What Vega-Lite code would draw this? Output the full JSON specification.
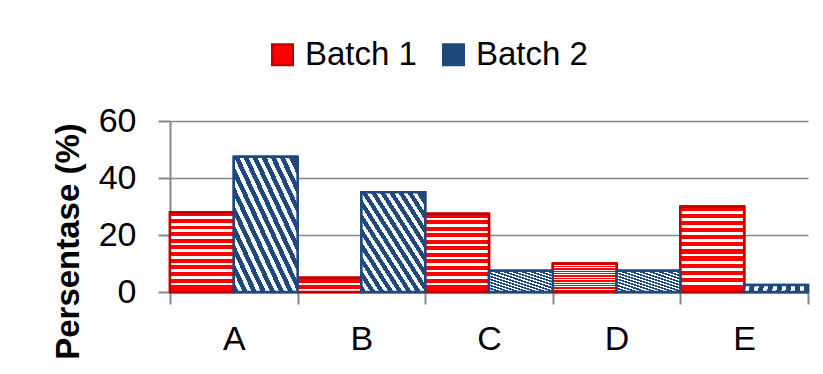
{
  "$schema": "https://vega.github.io/schema/vega-lite/v6.json",
  "width": 638,
  "height": 171,
  "autosize": {"type": "none"},
  "padding": {"left": 170, "top": 121, "right": 15, "bottom": 82},
  "background": "white",
  "config": {"view": {"stroke": null}, "font": "Liberation Sans"},
  "data": {
    "values": [
      {"cat": "A", "series": "Batch 1", "value": 28},
      {"cat": "A", "series": "Batch 2", "value": 47.5},
      {"cat": "B", "series": "Batch 1", "value": 5},
      {"cat": "B", "series": "Batch 2", "value": 35},
      {"cat": "C", "series": "Batch 1", "value": 27.5},
      {"cat": "C", "series": "Batch 2", "value": 7.5},
      {"cat": "D", "series": "Batch 1", "value": 10},
      {"cat": "D", "series": "Batch 2", "value": 7.5},
      {"cat": "E", "series": "Batch 1", "value": 30},
      {"cat": "E", "series": "Batch 2", "value": 2.5}
    ]
  },
  "encoding": {
    "x": {
      "field": "cat", "type": "nominal", "title": null,
      "scale": {"paddingInner": 0, "paddingOuter": 0},
      "axis": {"labelAngle": 0, "tickBand": "extent", "tickSize": 12, "tickColor": "#878787", "tickWidth": 2,
               "domainColor": "#878787", "domainWidth": 2, "labelFontSize": 34, "labelPadding": 18,
               "labelColor": "#000000", "grid": false}
    },
    "xOffset": {"field": "series", "type": "nominal", "scale": {"domain": ["Batch 1", "Batch 2"], "paddingInner": 0, "paddingOuter": 0}},
    "y": {
      "field": "value", "type": "quantitative",
      "scale": {"domain": [0, 60]},
      "axis": {"values": [0, 20, 40, 60], "title": "Persentase (%)", "titleFontSize": 33, "titleFontWeight": "bold",
               "titleColor": "#000000", "titleX": -85, "titleY": 120, "labelFontSize": 34, "labelColor": "#000000",
               "labelPadding": 22, "tickSize": 12, "tickColor": "#878787", "tickWidth": 2, "domainColor": "#878787",
               "domainWidth": 2, "gridColor": "#878787", "gridWidth": 1.5}
    }
  },
  "layer": [
    {
      "mark": {"type": "bar", "strokeWidth": 2.5},
      "encoding": {
        "fill": {"field": "series", "type": "nominal", "scale": {"domain": ["Batch 1", "Batch 2"], "range": ["#FF0000", "#1F497D"]},
                 "legend": {"orient": "none", "legendX": 96, "legendY": -83, "direction": "horizontal", "title": null,
                            "labelFontSize": 33, "labelColor": "#000000", "symbolType": "square", "symbolSize": 420,
                            "symbolStrokeWidth": 2.5, "labelOffset": 6, "columnPadding": 20, "padding": 0, "labelLimit": 300}},
        "stroke": {"field": "series", "type": "nominal", "scale": {"domain": ["Batch 1", "Batch 2"], "range": ["#C00000", "#1F497D"]},
                 "legend": {"orient": "none", "legendX": 96, "legendY": -83, "direction": "horizontal", "title": null,
                            "labelFontSize": 33, "labelColor": "#000000", "symbolType": "square", "symbolSize": 420,
                            "symbolStrokeWidth": 2.5, "labelOffset": 6, "columnPadding": 20, "padding": 0, "labelLimit": 300}}
      }
    },
    {
      "transform": [{"filter": "datum.series === 'Batch 1'"}],
      "mark": {"type": "bar", "stroke": "#C00000", "strokeWidth": 2.5, "strokeJoin": "round",
        "fill": {"gradient": "linear", "x1": 0, "y1": 0, "x2": 0, "y2": 1, "stops": [
          {"offset": 0, "color": "#FF0000"}, {"offset": 0.05, "color": "#FF0000"}, {"offset": 0.05, "color": "#FFFFFF"}, {"offset": 0.0833, "color": "#FFFFFF"},
          {"offset": 0.0833, "color": "#FF0000"}, {"offset": 0.1333, "color": "#FF0000"}, {"offset": 0.1333, "color": "#FFFFFF"}, {"offset": 0.1667, "color": "#FFFFFF"},
          {"offset": 0.1667, "color": "#FF0000"}, {"offset": 0.2167, "color": "#FF0000"}, {"offset": 0.2167, "color": "#FFFFFF"}, {"offset": 0.25, "color": "#FFFFFF"},
          {"offset": 0.25, "color": "#FF0000"}, {"offset": 0.3, "color": "#FF0000"}, {"offset": 0.3, "color": "#FFFFFF"}, {"offset": 0.3333, "color": "#FFFFFF"},
          {"offset": 0.3333, "color": "#FF0000"}, {"offset": 0.3833, "color": "#FF0000"}, {"offset": 0.3833, "color": "#FFFFFF"}, {"offset": 0.4167, "color": "#FFFFFF"},
          {"offset": 0.4167, "color": "#FF0000"}, {"offset": 0.4667, "color": "#FF0000"}, {"offset": 0.4667, "color": "#FFFFFF"}, {"offset": 0.5, "color": "#FFFFFF"},
          {"offset": 0.5, "color": "#FF0000"}, {"offset": 0.55, "color": "#FF0000"}, {"offset": 0.55, "color": "#FFFFFF"}, {"offset": 0.5833, "color": "#FFFFFF"},
          {"offset": 0.5833, "color": "#FF0000"}, {"offset": 0.6333, "color": "#FF0000"}, {"offset": 0.6333, "color": "#FFFFFF"}, {"offset": 0.6667, "color": "#FFFFFF"},
          {"offset": 0.6667, "color": "#FF0000"}, {"offset": 0.7167, "color": "#FF0000"}, {"offset": 0.7167, "color": "#FFFFFF"}, {"offset": 0.75, "color": "#FFFFFF"},
          {"offset": 0.75, "color": "#FF0000"}, {"offset": 0.8, "color": "#FF0000"}, {"offset": 0.8, "color": "#FFFFFF"}, {"offset": 0.8333, "color": "#FFFFFF"},
          {"offset": 0.8333, "color": "#FF0000"}, {"offset": 0.8833, "color": "#FF0000"}, {"offset": 0.8833, "color": "#FFFFFF"}, {"offset": 0.9167, "color": "#FFFFFF"},
          {"offset": 0.9167, "color": "#FF0000"}, {"offset": 1, "color": "#FF0000"}
        ]}}
    },
    {
      "transform": [{"filter": "datum.series === 'Batch 2'"}],
      "mark": {"type": "bar", "stroke": "#1F497D", "strokeWidth": 2.5, "strokeJoin": "round",
        "fill": {"gradient": "linear", "x1": 0, "y1": 1, "x2": 1, "y2": 0, "stops": [
          {"offset": 0, "color": "#1F497D"}, {"offset": 0.0393, "color": "#1F497D"}, {"offset": 0.0393, "color": "#FFFFFF"}, {"offset": 0.0714, "color": "#FFFFFF"},
          {"offset": 0.0714, "color": "#1F497D"}, {"offset": 0.1107, "color": "#1F497D"}, {"offset": 0.1107, "color": "#FFFFFF"}, {"offset": 0.1429, "color": "#FFFFFF"},
          {"offset": 0.1429, "color": "#1F497D"}, {"offset": 0.1821, "color": "#1F497D"}, {"offset": 0.1821, "color": "#FFFFFF"}, {"offset": 0.2143, "color": "#FFFFFF"},
          {"offset": 0.2143, "color": "#1F497D"}, {"offset": 0.2536, "color": "#1F497D"}, {"offset": 0.2536, "color": "#FFFFFF"}, {"offset": 0.2857, "color": "#FFFFFF"},
          {"offset": 0.2857, "color": "#1F497D"}, {"offset": 0.325, "color": "#1F497D"}, {"offset": 0.325, "color": "#FFFFFF"}, {"offset": 0.3571, "color": "#FFFFFF"},
          {"offset": 0.3571, "color": "#1F497D"}, {"offset": 0.3964, "color": "#1F497D"}, {"offset": 0.3964, "color": "#FFFFFF"}, {"offset": 0.4286, "color": "#FFFFFF"},
          {"offset": 0.4286, "color": "#1F497D"}, {"offset": 0.4679, "color": "#1F497D"}, {"offset": 0.4679, "color": "#FFFFFF"}, {"offset": 0.5, "color": "#FFFFFF"},
          {"offset": 0.5, "color": "#1F497D"}, {"offset": 0.5393, "color": "#1F497D"}, {"offset": 0.5393, "color": "#FFFFFF"}, {"offset": 0.5714, "color": "#FFFFFF"},
          {"offset": 0.5714, "color": "#1F497D"}, {"offset": 0.6107, "color": "#1F497D"}, {"offset": 0.6107, "color": "#FFFFFF"}, {"offset": 0.6429, "color": "#FFFFFF"},
          {"offset": 0.6429, "color": "#1F497D"}, {"offset": 0.6821, "color": "#1F497D"}, {"offset": 0.6821, "color": "#FFFFFF"}, {"offset": 0.7143, "color": "#FFFFFF"},
          {"offset": 0.7143, "color": "#1F497D"}, {"offset": 0.7536, "color": "#1F497D"}, {"offset": 0.7536, "color": "#FFFFFF"}, {"offset": 0.7857, "color": "#FFFFFF"},
          {"offset": 0.7857, "color": "#1F497D"}, {"offset": 0.825, "color": "#1F497D"}, {"offset": 0.825, "color": "#FFFFFF"}, {"offset": 0.8571, "color": "#FFFFFF"},
          {"offset": 0.8571, "color": "#1F497D"}, {"offset": 0.8964, "color": "#1F497D"}, {"offset": 0.8964, "color": "#FFFFFF"}, {"offset": 0.9286, "color": "#FFFFFF"},
          {"offset": 0.9286, "color": "#1F497D"}, {"offset": 1, "color": "#1F497D"}
        ]}}
    }
  ]
}
